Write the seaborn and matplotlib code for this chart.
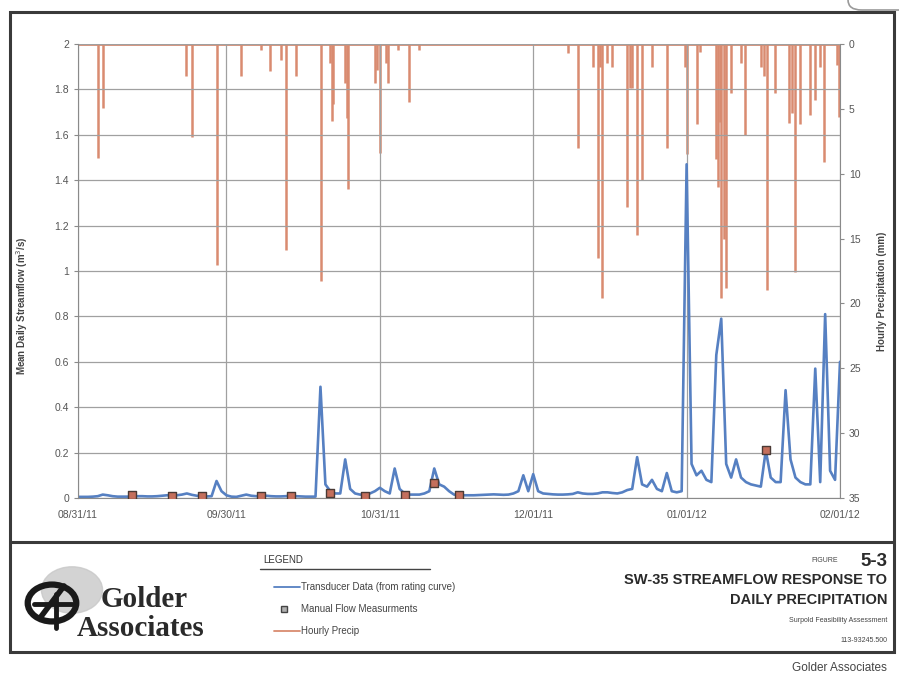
import numpy as np
import pandas as pd
import matplotlib.pyplot as plt
import matplotlib.dates as mdates
from matplotlib.patches import Rectangle, Circle, FancyBboxPatch
from matplotlib.lines import Line2D
import seaborn as sns

# daily mean streamflow (m3/s), 08/31/11 .. 02/01/12
flow_aug = [0.005]
flow_sep = [0.005, 0.005, 0.006, 0.008, 0.015, 0.012, 0.008, 0.006, 0.006, 0.006,
            0.007, 0.008, 0.008, 0.007, 0.007, 0.008, 0.010, 0.012, 0.010, 0.012,
            0.015, 0.020, 0.014, 0.010, 0.008, 0.007, 0.008, 0.075, 0.030, 0.012]
flow_oct = [0.006, 0.005, 0.010, 0.015, 0.010, 0.008, 0.008, 0.010, 0.008, 0.007,
            0.007, 0.008, 0.010, 0.008, 0.007, 0.006, 0.006, 0.006, 0.490, 0.060,
            0.030, 0.020, 0.020, 0.170, 0.040, 0.020, 0.015, 0.015, 0.020, 0.030, 0.045]
flow_nov = [0.030, 0.020, 0.130, 0.040, 0.020, 0.015, 0.015, 0.015, 0.020, 0.030,
            0.130, 0.060, 0.050, 0.030, 0.015, 0.012, 0.012, 0.012, 0.012, 0.013,
            0.014, 0.015, 0.016, 0.015, 0.014, 0.015, 0.020, 0.030, 0.100, 0.030]
flow_dec = [0.105, 0.030, 0.020, 0.018, 0.016, 0.015, 0.015, 0.016, 0.018, 0.025,
            0.020, 0.018, 0.018, 0.020, 0.025, 0.025, 0.022, 0.020, 0.025, 0.035,
            0.040, 0.180, 0.060, 0.050, 0.080, 0.040, 0.030, 0.110, 0.030, 0.025, 0.030]
flow_jan = [1.470, 0.150, 0.100, 0.120, 0.080, 0.070, 0.630, 0.790, 0.150, 0.090,
            0.170, 0.090, 0.070, 0.060, 0.055, 0.050, 0.210, 0.090, 0.070, 0.070,
            0.475, 0.170, 0.090, 0.070, 0.060, 0.060, 0.570, 0.070, 0.810, 0.120, 0.080]
flow_feb = [0.600]

manual_dates = ['2011-09-11', '2011-09-19', '2011-09-25', '2011-10-07', '2011-10-13',
                '2011-10-21', '2011-10-28', '2011-11-05', '2011-11-11', '2011-11-16',
                '2012-01-17']
manual_flow = [0.012, 0.008, 0.008, 0.008, 0.008, 0.022, 0.010, 0.012, 0.065, 0.012, 0.21]

precip_times = ['2011-09-04 01:00', '2011-09-05 00:00', '2011-09-21 22:00', '2011-09-23 00:00',
                '2011-09-28 00:00', '2011-10-03 00:00', '2011-10-07 00:00', '2011-10-08 17:00',
                '2011-10-11 00:00', '2011-10-12 00:00', '2011-10-14 00:00', '2011-10-19 05:00',
                '2011-10-21 00:00', '2011-10-21 07:00', '2011-10-21 14:00', '2011-10-24 00:00',
                '2011-10-24 07:00', '2011-10-24 14:00', '2011-10-30 00:00', '2011-10-30 10:00',
                '2011-10-31 00:00', '2011-11-01 05:00', '2011-11-01 14:00', '2011-11-03 14:00',
                '2011-11-05 22:00', '2011-11-08 00:00', '2011-12-08 00:00', '2011-12-10 00:00',
                '2011-12-13 00:00', '2011-12-14 00:00', '2011-12-14 12:00', '2011-12-15 00:00',
                '2011-12-16 00:00', '2011-12-17 00:00', '2011-12-20 00:00', '2011-12-20 12:00',
                '2011-12-21 00:00', '2011-12-22 00:00', '2011-12-23 00:00', '2011-12-25 00:00',
                '2011-12-28 00:00', '2011-12-31 14:00', '2012-01-01 00:00', '2012-01-03 00:00',
                '2012-01-03 19:00', '2012-01-07 00:00', '2012-01-07 10:00', '2012-01-07 17:00',
                '2012-01-08 00:00', '2012-01-08 12:00', '2012-01-09 00:00', '2012-01-10 00:00',
                '2012-01-12 00:00', '2012-01-12 17:00', '2012-01-16 00:00', '2012-01-16 14:00',
                '2012-01-17 05:00', '2012-01-18 19:00', '2012-01-21 17:00', '2012-01-22 07:00',
                '2012-01-23 00:00', '2012-01-24 00:00', '2012-01-26 00:00', '2012-01-27 00:00',
                '2012-01-28 00:00', '2012-01-28 19:00', '2012-01-31 10:00', '2012-01-31 19:00']
precip_mm = [8.8, 4.9, 2.5, 7.2,
             17.0, 2.5, 0.5, 2.1,
             1.2, 15.9, 2.5, 18.3,
             1.5, 5.9, 4.6, 3.0,
             5.7, 11.2, 3.0, 2.0,
             8.4, 1.5, 3.0, 0.5,
             4.5, 0.5, 0.7, 8.0,
             1.8, 16.5, 1.8, 19.6,
             1.5, 1.8, 12.6, 3.4,
             3.4, 14.7, 10.5, 1.8,
             8.0, 1.8, 8.5, 6.2,
             0.6, 8.9, 11.0, 6.0,
             19.6, 15.0, 18.8, 3.8,
             1.5, 7.0, 1.8, 2.5,
             19.0, 3.8, 6.1, 5.3,
             17.6, 6.2, 5.5, 4.3,
             1.8, 9.1, 1.6, 5.6]

tick_dates = ['2011-08-31', '2011-09-30', '2011-10-31', '2011-12-01', '2012-01-01', '2012-02-01']

flow = flow_aug + flow_sep + flow_oct + flow_nov + flow_dec + flow_jan + flow_feb
days = pd.date_range('2011-08-31', '2012-02-01', freq='D')
df = pd.DataFrame({'date': days, 'flow': flow})
man = pd.DataFrame({'date': pd.to_datetime(manual_dates), 'flow': manual_flow})
pr = pd.DataFrame({'time': pd.to_datetime(precip_times), 'mm': precip_mm})

sns.set_style('white')
plt.rcParams['font.family'] = ['Liberation Sans', 'DejaVu Sans']

W, H = 899, 683
fig = plt.figure(figsize=(W / 100, H / 100), dpi=100)


def fx(x):
    return x / W


def fy(y):
    return 1 - y / H


blue = '#5680c2'
salmon = '#d98b70'
grey_txt = '#555555'

ax = fig.add_axes([fx(78), fy(498), fx(840) - fx(78), fy(44) - fy(498)])
ax2 = ax.twinx()

# precipitation hanging from top
ax2.vlines(pr['time'], 0, pr['mm'], color=salmon, lw=1.8)
ax2.axhline(0, color=salmon, lw=2)
ax2.set_ylim(35, 0)
ax2.set_yticks(range(0, 36, 5))

ax.set_zorder(ax2.get_zorder() + 1)
ax.patch.set_visible(False)

sns.lineplot(data=df, x='date', y='flow', ax=ax, color=blue, lw=1.9)
sns.scatterplot(data=man, x='date', y='flow', ax=ax, marker='s', s=28,
                color='#c46f5c', edgecolor='#4a3a35', linewidth=1, zorder=5)

ax.set_xlim(pd.Timestamp('2011-08-31'), pd.Timestamp('2012-02-01'))
ax.set_ylim(0, 2)
ax.set_yticks(np.arange(0, 2.01, 0.2))
ax.set_yticklabels([f'{v:g}' for v in np.arange(0, 2.01, 0.2).round(1)])
ax.set_xticks(pd.to_datetime(tick_dates))
ax.xaxis.set_major_formatter(mdates.DateFormatter('%m/%d/%y'))
ax.grid(True, color='#a0a0a0', lw=0.9)
ax.set_xlabel('')
ax.set_ylabel('')

for a in (ax, ax2):
    for s in a.spines.values():
        s.set_color('#8a8a8a')
    a.spines['top'].set_visible(False)
    a.tick_params(labelsize=7.5, colors='#8a8a8a', labelcolor=grey_txt, length=3, width=0.8)
ax.tick_params(axis='x', pad=6)
ax.spines['right'].set_visible(False)
ax2.spines['left'].set_visible(False)
ax2.spines['bottom'].set_visible(False)

fig.text(fx(22), fy(306), 'Mean Daily Streamflow (m$^3$/s)', rotation=90, ha='center', va='center',
         fontsize=7, fontweight='bold', color='#444444')
fig.text(fx(882), fy(291), 'Hourly Precipitation (mm)', rotation=90, ha='center', va='center',
         fontsize=7, fontweight='bold', color='#444444')

# frame and title block
fig.add_artist(Rectangle((fx(10), fy(652)), fx(894) - fx(10), fy(12) - fy(652),
                         transform=fig.transFigure, fill=False, ec='#3a3a3a', lw=2.2))
fig.add_artist(Line2D([fx(10), fx(894)], [fy(542), fy(542)], transform=fig.transFigure,
                      color='#3a3a3a', lw=2.2))
fig.add_artist(FancyBboxPatch((fx(848), fy(10)), fx(70), fy(0) - fy(30),
                              boxstyle='round,pad=0,rounding_size=0.015',
                              transform=fig.transFigure, fill=False, ec='#9a9a9a', lw=1.2))

# logo
fig.add_artist(Circle((fx(72), fy(590)), 0.034, transform=fig.transFigure,
                      color='#c8c8c8', alpha=0.8))
fig.add_artist(Circle((fx(52), fy(603)), 0.027, transform=fig.transFigure,
                      fill=False, ec='#1a1a1a', lw=4.5))
fig.add_artist(Line2D([fx(40), fx(64)], [fy(618), fy(586)], transform=fig.transFigure,
                      color='#1a1a1a', lw=4))
fig.add_artist(Line2D([fx(34), fx(72)], [fy(604), fy(604)], transform=fig.transFigure,
                      color='#1a1a1a', lw=3.5))
fig.add_artist(Line2D([fx(56), fx(56)], [fy(594), fy(628)], transform=fig.transFigure,
                      color='#1a1a1a', lw=3.5))
fig.text(fx(101), fy(607), 'Golder', fontsize=21, fontweight='bold', color='#2a2a2a',
         family=['Liberation Serif', 'DejaVu Serif'], ha='left', va='baseline')
fig.text(fx(77), fy(636), 'Associates', fontsize=21, fontweight='bold', color='#2a2a2a',
         family=['Liberation Serif', 'DejaVu Serif'], ha='left', va='baseline')

# legend block
fig.text(fx(263), fy(560), 'LEGEND', fontsize=7, color='#333333', va='center')
fig.add_artist(Line2D([fx(260), fx(430)], [fy(569), fy(569)], transform=fig.transFigure,
                      color='#444444', lw=1))
leg_items = [('line', blue, 'Transducer Data (from rating curve)', 587),
             ('square', '#8a8a8a', 'Manual Flow Measurments', 609),
             ('line', salmon, 'Hourly Precip', 631)]
for kind, col, label, yy in leg_items:
    if kind == 'line':
        fig.add_artist(Line2D([fx(274), fx(300)], [fy(yy), fy(yy)], transform=fig.transFigure,
                              color=col, lw=1.3))
    else:
        fig.add_artist(Line2D([fx(284)], [fy(yy)], transform=fig.transFigure, marker='s',
                              markersize=4.5, mfc='#b0b0b0', mec='#444444', mew=1, ls='none'))
    fig.text(fx(301), fy(yy), label, fontsize=7, color='#444444', va='center')

fig.text(fx(838), fy(561), 'FIGURE', fontsize=5, color='#444444', ha='right', va='center')
fig.text(fx(887), fy(561), '5-3', fontsize=13.5, fontweight='bold', color='#2a2a2a',
         ha='right', va='center')
fig.text(fx(887), fy(580), 'SW-35 STREAMFLOW RESPONSE TO', fontsize=10.5, fontweight='bold',
         color='#2a2a2a', ha='right', va='center')
fig.text(fx(887), fy(600), 'DAILY PRECIPITATION', fontsize=10.5, fontweight='bold',
         color='#2a2a2a', ha='right', va='center')
fig.text(fx(887), fy(621), 'Surpold Feasibility Assessment', fontsize=5, color='#444444',
         ha='right', va='center')
fig.text(fx(887), fy(640), '113-93245.500', fontsize=5, color='#444444',
         ha='right', va='center')
fig.text(fx(887), fy(668), 'Golder Associates', fontsize=8.5, color='#444444',
         ha='right', va='center')

fig.savefig('out.png', dpi=100)
